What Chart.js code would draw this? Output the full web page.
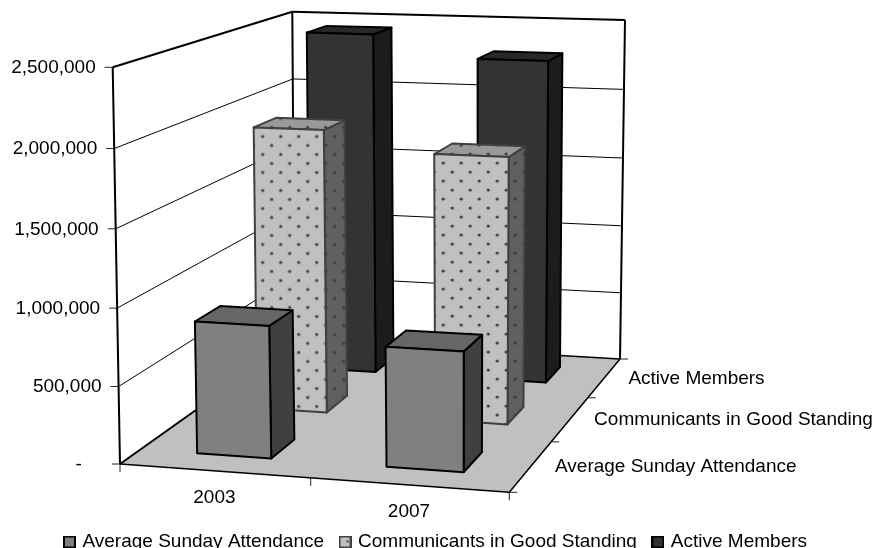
<!DOCTYPE html>
<html>
<head>
<meta charset="utf-8">
<style>
html,body{margin:0;padding:0;background:#fff;overflow:hidden}
#wrap{width:877px;height:548px;overflow:hidden}
canvas{display:block}
</style>
<script src="https://cdn.jsdelivr.net/npm/chart.js@4"></script>
</head>
<body>
<div id="wrap"><canvas id="c" width="877" height="548"></canvas></div>
<script>
const years = ['2003', '2007'];
const seriesNames = ['Average Sunday Attendance', 'Communicants in Good Standing', 'Active Members'];
const avgSunday = [860000, 770000];
const communicants = [1930000, 1800000];
const activeMembers = [2440000, 2290000];
const valueTicks = [0, 500000, 1000000, 1500000, 2000000, 2500000];

// --- 3D box projection calibration (u: along categories, d: into depth, v: up) ---
const floorQuad = [[120,464],[509.3,492.3],[620,359],[294.5,340]];
const ceilQuad  = [[112.7,67.3],[512.3,82],[625,20],[292.3,11.7]];
const vCurve = 0.03;

function makeH(q){
  const [p0,p1,p2,p3]=q;
  const dx1=p1[0]-p2[0],dx2=p3[0]-p2[0],sx=p0[0]-p1[0]+p2[0]-p3[0];
  const dy1=p1[1]-p2[1],dy2=p3[1]-p2[1],sy=p0[1]-p1[1]+p2[1]-p3[1];
  const den=dx1*dy2-dx2*dy1;
  const g=(sx*dy2-dx2*sy)/den,h=(dx1*sy-sx*dy1)/den;
  const a=p1[0]-p0[0]+g*p1[0],b=p3[0]-p0[0]+h*p3[0],c=p0[0];
  const d=p1[1]-p0[1]+g*p1[1],e=p3[1]-p0[1]+h*p3[1],f=p0[1];
  return (u,t)=>{const w=g*u+h*t+1;return [(a*u+b*t+c)/w,(d*u+e*t+f)/w];};
}
const hFloor=makeH(floorQuad),hCeil=makeH(ceilQuad);
function fracOf(scale,val){
  const v=(scale.bottom-scale.getPixelForValue(val))/(scale.bottom-scale.top);
  return v/(1+vCurve*(1-v));
}
function project(u,d,v){
  const a=hFloor(u,d),b=hCeil(u,d);
  return [a[0]+(b[0]-a[0])*v,a[1]+(b[1]-a[1])*v];
}

const faceStyles=[
  {front:'#808080',top:'#666666',side:'#404040',stroke:'#000000',dots:false},
  {front:'#c0c0c0',top:'#999999',side:'#606060',stroke:'#404040',dots:true},
  {front:'#333333',top:'#282828',side:'#1c1c1c',stroke:'#000000',dots:false}
];
const BAR_HALF=0.099, BAR_SHIFT=0.002, DEPTH_GAP=0.1, ROWS=3;

function dotTile(color){
  const t=document.createElement('canvas');t.width=18;t.height=18;
  const x=t.getContext('2d');
  x.fillStyle=color;x.fillRect(0,0,18,18);
  x.fillStyle='#3a3a3a';
  [[9,9],[0,0],[18,0],[0,18],[18,18]].forEach(p=>{x.beginPath();x.arc(p[0],p[1],1.6,0,7);x.fill();});
  return t;
}
function legendBox(s){
  const t=document.createElement('canvas');t.width=13;t.height=13;
  const x=t.getContext('2d');
  x.fillStyle=s.front;x.fillRect(1,1,11,11);
  if(s.dots){x.fillStyle='#404040';x.fillRect(8,5,2,2);}
  x.strokeStyle=s.stroke;x.lineWidth=2;x.strokeRect(1,1,11,11);
  return t;
}
function poly(ctx,pts,fill,stroke,lw){
  ctx.beginPath();
  pts.forEach((p,i)=>i?ctx.lineTo(p[0],p[1]):ctx.moveTo(p[0],p[1]));
  ctx.closePath();
  if(fill){ctx.fillStyle=fill;ctx.fill();}
  if(stroke){ctx.strokeStyle=stroke;ctx.lineWidth=lw;ctx.lineJoin='round';ctx.stroke();}
}
function line(ctx,a,b,lw,color){
  ctx.beginPath();ctx.moveTo(a[0],a[1]);ctx.lineTo(b[0],b[1]);
  ctx.lineWidth=lw;ctx.strokeStyle=color||'#000';ctx.stroke();
}

const box3d={
  id:'box3d',
  beforeDraw(chart){
    const ctx=chart.ctx,y=chart.scales.y,x=chart.scales.x;
    ctx.save();ctx.fillStyle='#fff';ctx.fillRect(0,0,chart.width,chart.height);ctx.restore();
    y.getLabelItems().forEach((it,i)=>{
      if(it.moved)return;it.moved=true;
      const p=project(0,0,fracOf(y,y.ticks[i].value));
      it.options.translation=[p[0]-17,p[1]+0.5];
      it.options.textAlign='right';it.options.textBaseline='middle';it.textOffset=0;
    });
    x.getLabelItems().forEach((it,i)=>{
      if(it.moved)return;it.moved=true;
      const p=project((i+0.5)/years.length,0,0);
      it.options.translation=[p[0],p[1]+27];
      it.options.textAlign='center';it.options.textBaseline='middle';it.textOffset=0;
    });
    x.top=470;x.bottom=530;
    const lg=chart.legend;
    lg.top=515;lg.bottom=548;
    lg.left=-4;lg.right=chart.width;
  },
  beforeDatasetsDraw(chart){
    const ctx=chart.ctx,y=chart.scales.y;
    ctx.save();
    ctx.lineCap='butt';
    // gridlines on the walls
    valueTicks.forEach(val=>{
      const v=fracOf(y,val);
      if(val>0&&val<valueTicks[valueTicks.length-1]){
        line(ctx,project(0,0,v),project(0,1,v),1);
        line(ctx,project(0,1,v),project(1,1,v),1);
      }
      const p=project(0,0,v);
      line(ctx,[p[0]-8,p[1]],p,1,'#222');
    });
    // floor
    poly(ctx,[project(0,0,0),project(1,0,0),project(1,1,0),project(0,1,0)],'#c0c0c0');
    // frame
    line(ctx,project(0,0,0),project(0,0,1),2);
    line(ctx,project(0,0,1),project(0,1,1),2);
    line(ctx,project(0,1,1),project(1,1,1),2);
    line(ctx,project(0,1,0),project(0,1,1),2);
    line(ctx,project(1,1,0),project(1,1,1),2);
    line(ctx,project(0,0,0),project(0,1,0),2);
    line(ctx,project(0,1,0),project(1,1,0),1.5);
    line(ctx,project(0,0,0),project(1,0,0),1.5);
    line(ctx,project(1,0,0),project(1,1,0),1.5);
    // ticks along floor edges
    [0,0.5,1].forEach(u=>{const p=project(u,0,0);line(ctx,p,[p[0],p[1]+8],1,'#222');});
    [0,1,2,3].forEach(r=>{const p=project(1,r/ROWS,0);line(ctx,p,[p[0]+8,p[1]],1,'#222');});
    // depth axis labels
    ctx.fillStyle='#000';ctx.font='19px "Liberation Sans"';ctx.textAlign='left';ctx.textBaseline='middle';
    seriesNames.forEach((name,r)=>{
      const p=project(1,(r+0.5)/ROWS,0);
      ctx.fillText(name,p[0]+24,p[1]+0.5);
    });
    ctx.restore();
  },
  beforeDatasetDraw(chart,args){
    const ctx=chart.ctx,y=chart.scales.y,r=args.index,s=faceStyles[r];
    const data=chart.data.datasets[r].data;
    ctx.save();
    data.forEach((val,i)=>{
      const c=(i+0.5)/years.length+BAR_SHIFT,u0=c-BAR_HALF,u1=c+BAR_HALF;
      const d0=r/ROWS+DEPTH_GAP,d1=(r+1)/ROWS-DEPTH_GAP,v=fracOf(y,val);
      const a=project(u0,d0,0),b=project(u1,d0,0),e=project(u1,d0,v),f=project(u0,d0,v);
      const g=project(u1,d1,0),h=project(u1,d1,v),k=project(u0,d1,v);
      const paint=col=>{
        if(!s.dots)return col;
        const pat=ctx.createPattern(dotTile(col),'repeat');
        pat.setTransform(new DOMMatrix().translate(f[0],f[1]));
        return pat;
      };
      poly(ctx,[b,g,h,e],paint(s.side),s.stroke,2);
      poly(ctx,[f,e,h,k],paint(s.top),s.stroke,2);
      poly(ctx,[a,b,e,f],paint(s.front),s.stroke,2);
    });
    ctx.restore();
    return false;
  }
};

new Chart(document.getElementById('c'),{
  type:'bar',
  data:{
    labels:years,
    datasets:[
      {label:seriesNames[0],data:avgSunday,backgroundColor:faceStyles[0].front,borderColor:faceStyles[0].stroke},
      {label:seriesNames[1],data:communicants,backgroundColor:faceStyles[1].front,borderColor:faceStyles[1].stroke},
      {label:seriesNames[2],data:activeMembers,backgroundColor:faceStyles[2].front,borderColor:faceStyles[2].stroke}
    ]
  },
  plugins:[box3d],
  options:{
    responsive:false,animation:false,devicePixelRatio:1,
    layout:{padding:{top:67,bottom:30,left:0,right:0}},
    font:{family:'"Liberation Sans"'},
    scales:{
      x:{grid:{display:false},border:{display:false},
         ticks:{color:'#000',font:{family:'"Liberation Sans"',size:19},autoSkip:false,maxRotation:0,padding:0},
         afterFit(s){s.height=0;}},
      y:{min:0,max:2500000,grid:{display:false},border:{display:false},
         afterBuildTicks(s){s.ticks=valueTicks.map(value=>({value}));},
         ticks:{color:'#000',font:{family:'"Liberation Sans"',size:19},autoSkip:false,
           callback:val=>val===0?'-    ':Number(val).toLocaleString('en-US')},
         afterFit(s){s.width=112;}}
    },
    plugins:{
      tooltip:{enabled:false},
      legend:{display:true,position:'bottom',
        labels:{color:'#000',font:{family:'"Liberation Sans"',size:19},usePointStyle:true,pointStyleWidth:7,boxHeight:13,padding:17.5,
          generateLabels(chart){
            return chart.data.datasets.map((ds,i)=>({
              text:ds.label,datasetIndex:i,hidden:false,fontColor:'#000',
              fillStyle:ds.backgroundColor,strokeStyle:ds.borderColor,lineWidth:0,
              pointStyle:legendBox(faceStyles[i])
            }));
          }}
      }
    }
  }
});
</script>
</body>
</html>
